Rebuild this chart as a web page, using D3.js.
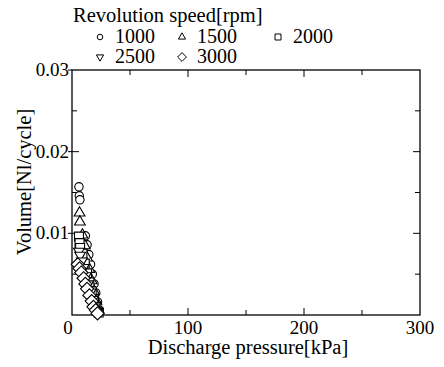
<!DOCTYPE html>
<html>
<head>
<meta charset="utf-8">
<script src="https://cdn.jsdelivr.net/npm/d3@7"></script>
<style>
  body { margin: 0; background: #fff; }
  text { font-family: "Liberation Serif", "Times New Roman", serif; fill: #000; }
</style>
</head>
<body>
<div id="vis-container"></div>
<script>
// series values: [pressure kPa, volume Nl/cycle]
const rpm1000 = [[6,0.0157],[6.3,0.0146],[6.8,0.0141],[11.5,0.0097],[13,0.0086],[14.5,0.0074],[16,0.0062],[17.5,0.005],[19,0.0038],[20.5,0.0027],[22,0.0016],[23.5,0.0006]];
const rpm1500 = [[6.5,0.0125],[6.8,0.0114],[9,0.0098],[11,0.0085],[13,0.007],[15,0.0056],[17,0.0042],[19,0.0029],[21,0.0017],[23,0.0006]];
const rpm2000 = [[6,0.0096],[6.5,0.0088],[7,0.0082],[9,0.0075],[11,0.0063],[13,0.0051],[15,0.004],[17,0.0029],[19,0.0019],[21,0.001],[23,0.0003]];
const rpm2500 = [[6,0.0078],[7,0.0073],[8.5,0.0066],[10,0.0058],[12,0.0048],[14,0.0038],[16,0.0028],[18,0.0019],[20,0.0011],[22,0.0004]];
const rpm3000 = [[5,0.0062],[6.5,0.0057],[8,0.0052],[10,0.0045],[11.5,0.0038],[13,0.0032],[15,0.0024],[17,0.0017],[18.5,0.001],[20.5,0.0006],[22,0.0002]];

const seriesNames = ['1000', '1500', '2000', '2500', '3000'];
const xTickValues = [0, 100, 200, 300];
const yTickValues = [0.01, 0.02, 0.03];
const xMinorValues = [50, 150, 250];
const yMinorValues = [0.005, 0.015, 0.025];

const series = [
  { name: seriesNames[0], data: rpm1000, sym: d3.symbolCircle, size: 55 },
  { name: seriesNames[1], data: rpm1500, sym: d3.symbolTriangle, size: 50 },
  { name: seriesNames[2], data: rpm2000, sym: d3.symbolSquare, size: 80 },
  { name: seriesNames[3], data: rpm2500, sym: d3.symbolTriangle, size: 50, flip: true },
  { name: seriesNames[4], data: rpm3000, sym: d3.symbolDiamond2, size: 110 },
];

const width = 444;
const height = 367;
const padding = { top: 70, right: 24, bottom: 52, left: 72 };
const plotW = width - padding.left - padding.right;
const plotH = height - padding.top - padding.bottom;

const xScale = d3.scaleLinear().domain([0, 300]).range([0, plotW]);
const yScale = d3.scaleLinear().domain([0, 0.03]).range([plotH, 0]);

const svg = d3.select('#vis-container').append('svg')
  .attr('width', width)
  .attr('height', height);

const g = svg.append('g')
  .attr('transform', `translate(${padding.left} ${padding.top})`);

// frame
g.append('rect')
  .attr('width', plotW).attr('height', plotH)
  .attr('fill', 'none').attr('stroke', '#000').attr('stroke-width', 1.3);

// ticks, pointing inward
function tickLines(vals, len, horiz) {
  vals.forEach(function (v) {
    if (horiz) {
      const x = xScale(v);
      g.append('line').attr('x1', x).attr('x2', x).attr('y1', plotH).attr('y2', plotH - len).attr('stroke', '#000');
      g.append('line').attr('x1', x).attr('x2', x).attr('y1', 0).attr('y2', len).attr('stroke', '#000');
    } else {
      const y = yScale(v);
      g.append('line').attr('x1', 0).attr('x2', len).attr('y1', y).attr('y2', y).attr('stroke', '#000');
      g.append('line').attr('x1', plotW).attr('x2', plotW - len).attr('y1', y).attr('y2', y).attr('stroke', '#000');
    }
  });
}
tickLines(xTickValues.slice(1, 3), 7, true);
tickLines(xMinorValues, 5, true);
tickLines(yTickValues.slice(0, 2), 7, false);
tickLines(yMinorValues, 5, false);
// small outward stubs on the left for major ticks
yTickValues.forEach(function (v) {
  g.append('line').attr('x1', -4).attr('x2', 0).attr('y1', yScale(v)).attr('y2', yScale(v)).attr('stroke', '#000');
});

// tick labels
g.selectAll('.xlab').data(xTickValues).enter().append('text')
  .attr('x', d => xScale(d) - (d === 0 ? 4 : 0))
  .attr('y', plotH + 19)
  .attr('text-anchor', 'middle')
  .attr('font-size', 19)
  .text(d => d);

g.selectAll('.ylab').data(yTickValues).enter().append('text')
  .attr('x', -3)
  .attr('y', d => yScale(d) + 6)
  .attr('text-anchor', 'end')
  .attr('font-size', 19)
  .text(d => d.toFixed(2));

// axis titles
svg.append('text')
  .attr('x', padding.left + plotW / 2 + 2)
  .attr('y', 354)
  .attr('text-anchor', 'middle')
  .attr('font-size', 20.5)
  .text('Discharge pressure[kPa]');

svg.append('text')
  .attr('transform', 'translate(31 182) rotate(-90)')
  .attr('text-anchor', 'middle')
  .attr('font-size', 20.5)
  .text('Volume[Nl/cycle]');

// markers
function symbolPath(s) {
  return d3.symbol().type(s.sym).size(s.size)();
}
series.forEach(function (s) {
  g.selectAll(null).data(s.data).enter().append('path')
    .attr('d', symbolPath(s))
    .attr('transform', d => `translate(${xScale(d[0])} ${yScale(d[1])})` + (s.flip ? ' rotate(180)' : ''))
    .attr('fill', '#fff')
    .attr('stroke', '#000')
    .attr('stroke-width', 1.1);
});

// legend
const legend = svg.append('g');
legend.append('text').attr('x', 73).attr('y', 22).attr('font-size', 20.5).text('Revolution speed[rpm]');
const legPos = [[100, 37], [182, 37], [278, 37], [100, 57], [182, 57]];
series.forEach(function (s, i) {
  const p = legPos[i];
  legend.append('path')
    .attr('d', d3.symbol().type(s.sym).size(s.size * 0.45)())
    .attr('transform', `translate(${p[0]} ${p[1]})` + (s.flip ? ' rotate(180)' : ''))
    .attr('fill', '#fff').attr('stroke', '#000').attr('stroke-width', 1);
  legend.append('text')
    .attr('x', p[0] + 15).attr('y', p[1] + 6)
    .attr('font-size', 20)
    .text(s.name);
});
</script>
</body>
</html>
